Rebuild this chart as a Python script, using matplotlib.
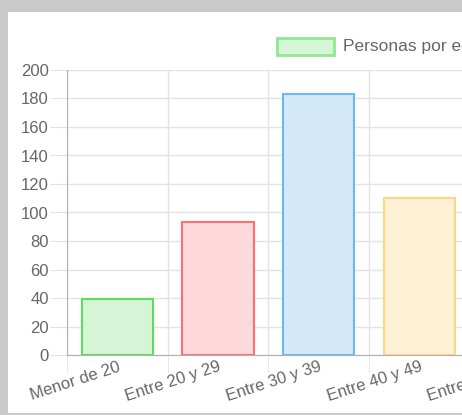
import matplotlib.pyplot as plt
import matplotlib.patches as mpatches
import numpy as np

plt.rcParams['font.family'] = ['Liberation Sans', 'DejaVu Sans']

categories = ["Menor de 20", "Entre 20 y 29", "Entre 30 y 39", "Entre 40 y 49", "Entre 50 y 59"]
values = [39, 93, 183, 110]
fill_colors = ["#d6f5d6", "#fdd9dc", "#d4e9f7", "#fff1d6"]
edge_colors = ["#5fdc5f", "#ff6f6f", "#6cb8f0", "#ffd580"]
legend_label = "Personas por edad"

W, H = 462, 415
fig = plt.figure(figsize=(W / 100, H / 100), dpi=100)
fig.patch.set_facecolor("#c9c9c9")

# white card of the screenshot
card = mpatches.Rectangle((8 / W, 2 / H), 1, 1 - 14 / H, transform=fig.transFigure,
                          facecolor="white", edgecolor="none", zorder=-5)
fig.patches.append(card)

# axes: 5 categories, each ~100.7 px wide, right part runs off the image
left, bottom = 67, 355
cat_w = 100.7
ax = fig.add_axes([left / W, (H - bottom) / H, cat_w * 5 / W, (bottom - 70) / H], zorder=2)
ax.set_facecolor("none")

x = np.arange(len(values))
ax.bar(x, values, width=0.71, color=fill_colors, edgecolor=edge_colors, linewidth=1.5, zorder=3)

ax.set_xlim(-0.5, len(categories) - 0.5)
ax.set_ylim(0, 200)
ax.set_yticks(np.arange(0, 201, 20))
ax.set_xticks(np.arange(len(categories)))
ax.set_xticklabels(categories, rotation=18, ha="right", rotation_mode="anchor")
ax.set_xticks(np.arange(len(categories) + 1) - 0.5, minor=True)

ax.grid(True, axis="y", color="#e3e3e3", linewidth=1, zorder=0)
ax.grid(True, axis="x", which="minor", color="#e3e3e3", linewidth=1, zorder=0)
ax.tick_params(axis="y", length=12, color="#e3e3e3", labelcolor="#666666", labelsize=12, pad=1)
ax.tick_params(axis="x", which="major", length=0, labelcolor="#666666", labelsize=12, pad=3)
ax.tick_params(axis="x", which="minor", length=12, color="#e3e3e3")

for s in ["top", "right"]:
    ax.spines[s].set_visible(False)
ax.spines["left"].set_color("#b0b0b0")
ax.spines["bottom"].set_color("#b0b0b0")

# legend
box = mpatches.Rectangle((277 / W, 1 - 55 / H), 57 / W, 17 / H, transform=fig.transFigure,
                         facecolor=fill_colors[0], edgecolor="#90e890", linewidth=2)
fig.patches.append(box)
fig.text(343 / W, 1 - 46 / H, legend_label, color="#666666", fontsize=12.5, va="center")

fig.savefig("out.png", dpi=100)
